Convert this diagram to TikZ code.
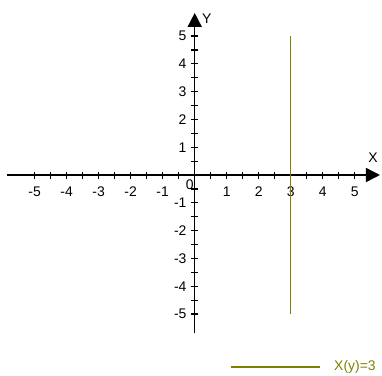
\documentclass[tikz,border=0pt]{standalone}
\usepackage{fontspec}
\setmainfont{Liberation Sans}
\usetikzlibrary{arrows.meta}
\definecolor{olivec}{RGB}{128,128,0}
\begin{document}
\begin{tikzpicture}[x=1bp,y=-1bp,font=\fontsize{14}{14}\selectfont,
  axis/.style={line width=1.5bp,-{Triangle[length=14bp,width=14bp]}},
  tick/.style={line width=1.2bp},
  lbl/.style={inner sep=0pt},
  graph/.style={olivec,line width=1.5bp}]
\useasboundingbox (0,0) rectangle (382,376);
\begin{scope}[shift={(194.7,175)},x=32bp,y=27.8bp]
  \coordinate (xs) at (-5.87,0);
  \coordinate (xe) at (5.79,0);
  \coordinate (ys) at (0,-5.7);
  \coordinate (ye) at (0,5.83);
  \draw[axis] (xs) -- (xe);
  \draw[axis] (ys) -- (ye);
  \foreach \t in {-5,-4.5,...,-0.5,0.5,1,...,5}{
    \draw[tick] (\t,0) ++(0,3.5bp) -- ++(0,-7bp);
    \draw[tick] (0,\t) ++(-3.5bp,0) -- ++(7bp,0);
  }
  \foreach \t in {-5,...,-1,1,2,...,5}{
    \node[lbl] (lx\t) at (\t,0) [yshift=-17bp] {\t};
    \node[lbl,anchor=east] (ly\t) at (0,\t) [xshift=-8bp] {\t};
  }
  \node[lbl] (l0) at (0,0) [xshift=-5bp,yshift=-10bp] {0};
  \node[lbl] (lX) at (xe) [xshift=-7bp,yshift=17bp] {X};
  \node[lbl] (lY) at (ye) [xshift=12bp,yshift=-6bp] {Y};
  \coordinate (gtop) at (3,5);
  \coordinate (gbot) at (3,-5);
  \draw[graph] (gtop) -- (gbot);
\end{scope}
\coordinate (legA) at (231,367);
\coordinate (legB) at (320,367);
\draw[graph] (legA) -- (legB);
\node[lbl,anchor=west,text=olivec] (legT) at (334,367) {X(y)=3};
\end{tikzpicture}
\end{document}
